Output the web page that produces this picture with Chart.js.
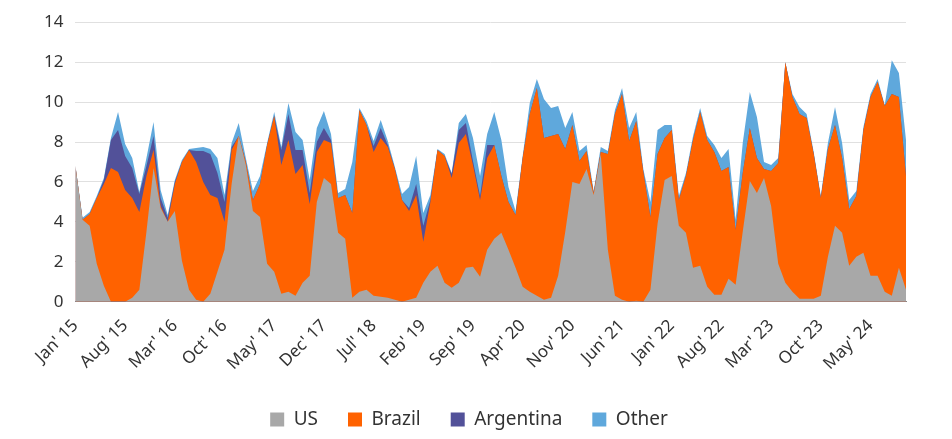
<!DOCTYPE html>
<html>
<head>
<meta charset="utf-8">
<script src="https://cdn.jsdelivr.net/npm/chart.js@4"></script>
<style>
  html, body { margin: 0; padding: 0; background: #fff; }
  #wrap { width: 952px; height: 439px; }
</style>
</head>
<body>
<div id="wrap"><canvas id="c"></canvas></div>
<script>
// Monthly, Jan 2015 .. Oct 2024
const monthNames = ['Jan', 'Feb', 'Mar', 'Apr', 'May', 'Jun', 'Jul', 'Aug', 'Sep', 'Oct', 'Nov', 'Dec'];
const startYear = 15;

const us = [
    6.8, 4.1, 3.8, 1.9, 0.8, 0, 0, 0, 0.2, 0.6, 3.5, 6.7,
    4.7, 4.0, 4.55, 2.05, 0.6, 0.1, 0, 0.4, 1.5, 2.6, 5.9, 8.3,
    6.85, 4.55, 4.25, 1.9, 1.5, 0.4, 0.5, 0.3, 0.95, 1.3, 5.0, 6.2,
    5.9, 3.45, 3.15, 0.2, 0.5, 0.6, 0.3, 0.25, 0.2, 0.1, 0, 0.1,
    0.2, 0.95, 1.5, 1.8, 0.95, 0.7, 0.95, 1.7, 1.75, 1.25, 2.6, 3.15,
    3.45, 2.6, 1.7, 0.75, 0.5, 0.3, 0.1, 0.2, 1.3, 3.5, 6.0, 5.9,
    6.65, 5.35, 7.4, 2.6, 0.3, 0.1, 0, 0.05, 0, 0.6, 3.9, 6.1,
    6.3, 3.8, 3.45, 1.7, 1.8, 0.75, 0.35, 0.35, 1.15, 0.85, 3.5, 6.05,
    5.45, 6.2, 4.8, 1.9, 0.95, 0.5, 0.15, 0.15, 0.15, 0.3, 2.25, 3.8,
    3.45, 1.8, 2.25, 2.45, 1.3, 1.3, 0.5, 0.3, 1.7, 0.6
];
const brazil = [
    0, 0, 0.6, 3.3, 5.1, 6.7, 6.5, 5.6, 5.0, 3.9, 2.8, 0.9,
    0.1, 0, 1.35, 4.95, 7.0, 6.9, 6.0, 4.95, 3.7, 1.4, 1.7, 0,
    0.15, 0.55, 1.65, 5.95, 7.8, 6.45, 7.6, 6.1, 5.9, 3.6, 2.5, 1.9,
    2.05, 1.75, 2.2, 4.25, 9.1, 8.25, 7.2, 7.95, 7.55, 6.55, 5.1, 4.45,
    5.15, 2.05, 3.5, 5.8, 6.35, 5.5, 7.0, 6.7, 5.1, 3.85, 4.6, 4.7,
    2.85, 2.4, 2.65, 6.45, 8.9, 10.4, 8.1, 8.1, 7.1, 4.15, 2.85, 1.15,
    0.9, 0.1, 0.1, 4.8, 9.1, 10.3, 8.05, 9.0, 6.5, 3.65, 3.5, 2.1,
    2.3, 1.3, 2.85, 6.4, 7.7, 7.35, 7.15, 6.2, 5.6, 2.75, 2.95, 2.65,
    1.75, 0.45, 1.75, 5.05, 11.05, 9.75, 9.25, 9.05, 7.25, 4.9, 5.4, 5.05,
    3.75, 2.85, 3.05, 6.15, 8.95, 9.7, 9.3, 10.1, 8.55, 5.7
];
const argentina = [
    0, 0, 0, 0, 0.2, 1.4, 2.1, 1.7, 1.5, 0.9, 0.5, 0.7,
    0.4, 0.2, 0.1, 0, 0, 0.55, 1.55, 2.05, 1.25, 1.0, 0.15, 0,
    0, 0, 0, 0, 0, 0.75, 1.3, 1.2, 0.75, 0.55, 0.5, 0.6,
    0.15, 0, 0, 0, 0, 0, 0.3, 0.5, 0.1, 0, 0, 0.15,
    0.55, 0.8, 0.1, 0, 0, 0.2, 0.65, 0.55, 0.2, 0.2, 0.65, 0,
    0, 0, 0, 0, 0, 0, 0, 0, 0, 0, 0, 0,
    0, 0, 0, 0, 0, 0, 0, 0, 0, 0, 0, 0,
    0, 0, 0, 0, 0, 0, 0, 0, 0, 0, 0, 0,
    0, 0, 0, 0, 0, 0, 0, 0, 0, 0, 0, 0,
    0, 0, 0, 0, 0, 0, 0, 0, 0, 0
];
const other = [
    0, 0.1, 0.1, 0.1, 0.1, 0.1, 0.9, 0.6, 0.5, 0.1, 0.4, 0.7,
    0.4, 0.15, 0.1, 0.1, 0.05, 0.15, 0.2, 0.25, 0.75, 0.35, 0.2, 0.65,
    0.2, 0.45, 0.4, 0.1, 0.2, 0.15, 0.55, 0.9, 0.5, 0.65, 0.7, 0.85,
    0.3, 0.25, 0.3, 2.55, 0.1, 0.2, 0.25, 0.4, 0.2, 0.1, 0.3, 1.05,
    1.4, 0.65, 0.25, 0.05, 0.1, 0.05, 0.35, 0.45, 1.15, 1.0, 0.55, 1.65,
    1.8, 0.75, 0.2, 0.1, 0.55, 0.45, 1.95, 1.4, 1.4, 1.05, 0.65, 0.5,
    0.3, 0.1, 0.25, 0.15, 0.2, 0.3, 0.65, 0.45, 0.15, 0.75, 1.2, 0.65,
    0.25, 0.2, 0.15, 0.2, 0.2, 0.2, 0.35, 0.65, 0.9, 0.5, 1.5, 1.8,
    2.05, 0.35, 0.3, 0.25, 0, 0.15, 0.35, 0.2, 0.1, 0.1, 0.3, 0.9,
    0.75, 0.45, 0.25, 0.15, 0.15, 0.15, 0.05, 1.7, 1.2, 1.8
];

const labels = us.map((_, i) => monthNames[i % 12] + "' " + (startYear + Math.floor(i / 12)));

const font = "'Noto Sans', sans-serif";
const tickColor = '#333';

const layer = (label, data, color) => ({
    label: label,
    data: data,
    backgroundColor: color,
    borderColor: color,
    borderWidth: 0,
    fill: true,
    pointRadius: 0,
    tension: 0
});

new Chart(document.getElementById('c'), {
    type: 'line',
    data: {
        labels: labels,
        datasets: [
            layer('US', us, '#a8a8a8'),
            layer('Brazil', brazil, '#ff6200'),
            layer('Argentina', argentina, '#525199'),
            layer('Other', other, '#5fa8dc')
        ]
    },
    options: {
        responsive: true,
        maintainAspectRatio: false,
        animation: false,
        layout: { padding: { left: 32, right: 46, top: 20, bottom: 0 } },
        plugins: {
            tooltip: { enabled: false },
            legend: {
                position: 'bottom',
                labels: {
                    color: tickColor,
                    font: { family: font, size: 19 },
                    boxWidth: 14,
                    boxHeight: 14,
                    padding: 30
                }
            }
        },
        scales: {
            x: {
                offset: false,
                grid: { display: false, drawTicks: true, tickLength: 8, color: '#888' },
                border: { display: true, color: '#888' },
                ticks: {
                    autoSkip: false,
                    maxRotation: 45,
                    minRotation: 45,
                    padding: 6,
                    color: tickColor,
                    font: { family: font, size: 17 },
                    callback: function (v, i) { return i % 7 === 0 ? labels[i] : null; }
                }
            },
            y: {
                stacked: true,
                min: 0,
                max: 14,
                grid: { color: '#e0e0e0', drawTicks: false },
                border: { display: false },
                ticks: {
                    stepSize: 2,
                    padding: 12,
                    color: tickColor,
                    font: { family: font, size: 17 }
                }
            }
        }
    }
});
</script>
</body>
</html>
